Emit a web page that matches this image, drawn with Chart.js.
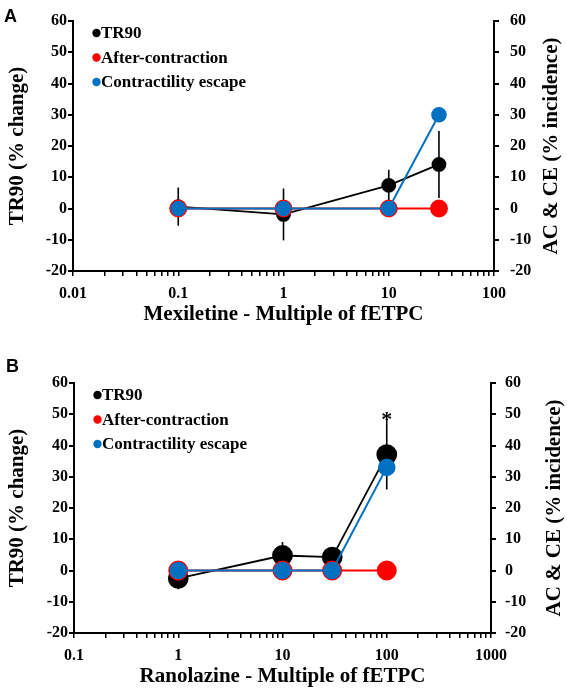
<!DOCTYPE html>
<html>
<head>
<meta charset="utf-8">
<script src="https://cdn.jsdelivr.net/npm/chart.js@4.4.1/dist/chart.umd.min.js"></script>
<style>
  body { margin: 0; background: #fff; }
  #wrap { position: relative; width: 567px; height: 694px; }
  .panel { position: absolute; left: 0; }
  .tag { position: absolute; font: bold 18px "Liberation Sans", Arial, sans-serif; line-height: 18px; }
</style>
</head>
<body>
<div id="wrap">
  <canvas id="chartA" class="panel" style="top:0" width="567" height="340"></canvas>
  <canvas id="chartB" class="panel" style="top:340px" width="567" height="354"></canvas>
  <div class="tag" style="left:4px;top:7px">A</div>
  <div class="tag" style="left:6px;top:357px">B</div>
</div>
<script>
// panel A - mexiletine
var doseA = [0.1, 1, 10, 30];
var tr90A = [0.6, -1.9, 7.4, 14.1];
var tr90ErrA = [6.1, 8.3, 5.0, 10.7];
var acA = [0, 0, 0, 0];
var ceA = [0, 0, 0, 30];
var decadesA = [0.01, 0.1, 1, 10, 100];

// panel B - ranolazine
var doseB = [1, 10, 30, 100];
var tr90B = [-2.5, 4.8, 4.3, 37.1];
var tr90ErrB = [3.5, 4.3, 2.0, 11.2];
var acB = [0, 0, 0, 0];
var ceB = [0, 0, 0, 33];
var starB = [false, false, false, true];
var decadesB = [0.1, 1, 10, 100, 1000];

var yMin = -20, yMax = 60, yStep = 10;

var serif = '"Liberation Serif", "Times New Roman", serif';
var tickFont = { family: serif, weight: 'bold', size: 16 };
var titleFont = { family: serif, weight: 'bold', size: 21 };

function logTicks(decades) {
  var out = [];
  for (let i = 0; i < decades.length - 1; i++) {
    for (let k = 1; k <= 9; k++) out.push(k * decades[i]);
  }
  out.push(decades[decades.length - 1]);
  return out;
}

function pts(xs, ys) {
  return xs.map(function (x, i) { return { x: x, y: ys[i] }; });
}

// error bars + significance star, drawn under the markers
var errorBars = {
  id: 'errorBars',
  beforeDatasetsDraw: function (chart, args, opts) {
    const ctx = chart.ctx, sx = chart.scales.x, sy = chart.scales.y;
    ctx.save();
    ctx.strokeStyle = '#000';
    ctx.lineWidth = 1.6;
    opts.dose.forEach(function (d, i) {
      const px = sx.getPixelForValue(d);
      const top = sy.getPixelForValue(opts.mean[i] + opts.err[i]);
      ctx.beginPath();
      ctx.moveTo(px, sy.getPixelForValue(opts.mean[i] - opts.err[i]));
      ctx.lineTo(px, top);
      ctx.stroke();
      if (opts.star && opts.star[i]) {
        ctx.fillStyle = '#000';
        ctx.font = 'bold 22px ' + serif;
        ctx.textAlign = 'center';
        ctx.textBaseline = 'alphabetic';
        ctx.fillText('*', px, top + 6);
      }
    });
    ctx.restore();
  }
};

// legend inside plot + rotated right axis title
var sideText = {
  id: 'sideText',
  afterDraw: function (chart, args, opts) {
    const ctx = chart.ctx, area = chart.chartArea;
    ctx.save();
    ctx.font = 'bold 17px ' + serif;
    ctx.textBaseline = 'middle';
    ctx.textAlign = 'left';
    chart.data.datasets.forEach(function (ds, i) {
      const cy = area.top + 12 + i * 24.5;
      ctx.fillStyle = ds.pointBackgroundColor;
      ctx.beginPath();
      ctx.arc(area.left + 23.5, cy, 4.2, 0, Math.PI * 2);
      ctx.fill();
      ctx.fillStyle = '#000';
      ctx.fillText(ds.label, area.left + 28, cy + 1);
    });
    ctx.font = 'bold 21px ' + serif;
    ctx.textAlign = 'center';
    ctx.translate(opts.rightTitleX, (area.top + area.bottom) / 2);
    ctx.rotate(-Math.PI / 2);
    ctx.fillText('AC & CE (% incidence)', 0, 0);
    ctx.restore();
  }
};

function makeChart(id, p) {
  return new Chart(id, {
    type: 'line',
    data: {
      datasets: [{
        label: 'TR90',
        data: pts(p.dose, p.tr90),
        yAxisID: 'y',
        order: 3,
        borderColor: '#000',
        borderWidth: 1.8,
        pointBackgroundColor: '#000',
        pointBorderColor: '#000',
        pointRadius: p.r[0]
      }, {
        label: 'After-contraction',
        data: pts(p.dose, p.ac),
        yAxisID: 'y2',
        order: 2,
        borderColor: '#ff0000',
        borderWidth: 2,
        pointBackgroundColor: '#ff0000',
        pointBorderColor: '#ff0000',
        pointRadius: p.r[1]
      }, {
        label: 'Contractility escape',
        data: pts(p.dose, p.ce),
        yAxisID: 'y2',
        order: 1,
        borderColor: '#0070c0',
        borderWidth: 2,
        pointBackgroundColor: '#0070c0',
        pointBorderColor: '#0070c0',
        pointRadius: p.r[2]
      }]
    },
    options: {
      responsive: false,
      animation: false,
      events: [],
      layout: { padding: { top: p.top, left: 0, right: 0, bottom: 0 } },
      plugins: {
        legend: { display: false },
        tooltip: { enabled: false },
        errorBars: { dose: p.dose, mean: p.tr90, err: p.err, star: p.star },
        sideText: { rightTitleX: p.rightTitleX }
      },
      scales: {
        x: {
          type: 'logarithmic',
          min: p.decades[0],
          max: p.decades[p.decades.length - 1],
          afterBuildTicks: function (s) {
            s.ticks = logTicks(p.decades).map(function (v) { return { value: v }; });
          },
          ticks: {
            autoSkip: false, maxRotation: 0, minRotation: 0,
            color: '#000', font: tickFont, padding: 8,
            callback: function (v) { return p.decades.indexOf(v) >= 0 ? String(v) : ''; }
          },
          grid: { drawOnChartArea: false, color: '#000', lineWidth: 1.5, tickLength: 5 },
          border: { color: '#000', width: 2 },
          title: { display: true, text: p.xTitle, color: '#000', font: titleFont, padding: { top: 0, bottom: p.xTitlePad } },
          afterFit: function (s) { s.height = p.xHeight; }
        },
        y: {
          position: 'left',
          min: yMin, max: yMax,
          ticks: { stepSize: yStep, color: '#000', font: tickFont, padding: 1 },
          grid: { drawOnChartArea: false, color: '#000', lineWidth: 2, tickLength: 5 },
          border: { color: '#000', width: 2 },
          title: { display: true, text: 'TR90 (% change)', color: '#000', font: titleFont, padding: { top: 5, bottom: 0 } },
          afterFit: function (s) { s.width = p.leftW; }
        },
        y2: {
          position: 'right',
          min: yMin, max: yMax,
          ticks: { stepSize: yStep, color: '#000', font: tickFont, padding: p.rightPad },
          grid: { drawOnChartArea: false, color: '#000', lineWidth: 2, tickLength: 5 },
          border: { color: '#000', width: 2 },
          afterFit: function (s) { s.width = p.rightW; }
        }
      }
    },
    plugins: [errorBars, sideText]
  });
}

makeChart('chartA', {
  dose: doseA, tr90: tr90A, err: tr90ErrA, ac: acA, ce: ceA, star: null,
  decades: decadesA, xTitle: 'Mexiletine - Multiple of fETPC',
  r: [6.5, 8, 6.8], top: 21, leftW: 73, rightW: 73, xHeight: 69,
  xTitlePad: 13, rightPad: 11, rightTitleX: 552
});

makeChart('chartB', {
  dose: doseB, tr90: tr90B, err: tr90ErrB, ac: acB, ce: ceB, star: starB,
  decades: decadesB, xTitle: 'Ranolazine - Multiple of fETPC',
  r: [9.5, 9, 7.8], top: 43, leftW: 74, rightW: 76, xHeight: 61,
  xTitlePad: 5, rightPad: 9, rightTitleX: 555
});
</script>
</body>
</html>
